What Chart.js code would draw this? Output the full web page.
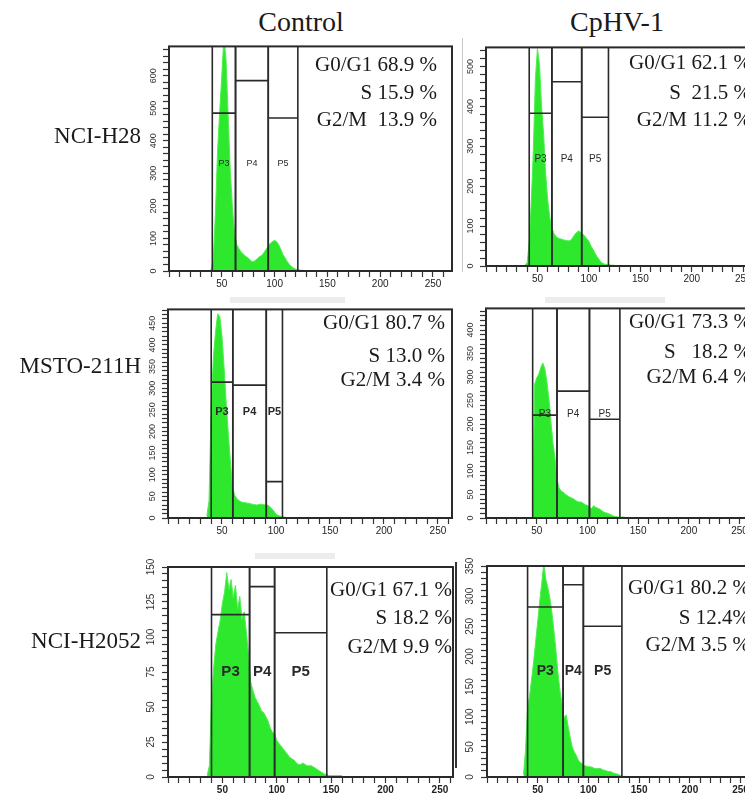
<!DOCTYPE html>
<html>
<head>
<meta charset="utf-8">
<script src="https://cdn.jsdelivr.net/npm/chart.js@4.4.0/dist/chart.umd.min.js"></script>
<style>
html,body{margin:0;padding:0;background:#fff;}
body{width:745px;height:796px;overflow:hidden;position:relative;font-family:"Liberation Serif","Times New Roman",serif;color:#1a1a1a;}
canvas{position:absolute;}
.txt{position:absolute;white-space:pre;line-height:1;}
.pct{font-size:21px;text-align:right;}
.title{font-size:28px;text-align:center;width:200px;}
.row{font-size:23px;text-align:right;}
.smudge{position:absolute;background:#ececec;}
</style>
</head>
<body>
<script>
//DNA content channels shared by all six histograms
var channels = [36,38,40,42,44,46,48,50,52,54,56,58,60,62,64,66,68,70,72,74,76,78,80,82,84,86,88,90,92,94,96,98,100,102,104,106,108,110,112,114,116,118,120,122,124,126,128,130,132,134,136,138,140,142,144,146,148,150,152,154,156,158,160];

//Cell counts per channel
var h28Control = [0,1,4,40,180,370,490,600,720,650,480,310,200,118,82,70,60,53,47,42,37,30,29,33,39,45,48,57,67,77,85,91,94,90,80,66,50,40,29,20,14,9,6,4,3,2,2,1,1,1,1,1,1,0,0,0,0,0,0,0,0,0,0];
var h28Cphv = [0,2,8,60,160,290,470,545,505,400,330,230,165,122,95,82,74,70,68,67,65,64,63,64,70,78,84,88,84,80,75,68,62,50,42,32,23,16,9,6,4,4,3,2,2,1,1,1,1,0,0,0,0,0,0,0,0,0,0,0,0,0,0];
var mstoControl = [5,40,260,370,430,472,465,420,346,262,190,124,68,52,44,40,37,36,35,34,33,32,31,30,31,32,31,30,30,27,22,16,9,6,4,3,2,1,1,1,0,0,0,0,0,0,0,0,0,0,0,0,0,0,0,0,0,0,0,0,0,0,0];
var mstoCphv = [0,0,0,0,0,0,285,298,306,320,330,318,290,255,205,160,128,82,64,58,55,51,48,45,43,41,38,35,34,34,31,28,27,22,20,26,23,21,19,16,13,11,10,8,6,4,3,2,2,2,2,1,1,1,0,0,0,0,0,0,0,0,0];
var h2052Control = [1,8,55,78,95,104,112,124,132,146,134,141,128,137,120,129,113,118,104,88,68,62,57,54,51,47,46,43,40,35,32,31,26,24,22,20,18,16,14,13,12,10,9,9,10,9,8,8,8,7,6,5,4,3,2,2,1,1,1,1,1,1,1];
var h2052Cphv = [4,45,115,135,163,192,225,258,292,322,355,328,314,297,273,243,210,172,143,121,98,103,84,66,50,42,36,28,24,22,19,18,17,17,16,14,14,14,14,12,11,10,9,9,7,6,5,4,2,1,1,1,0,0,0,0,0,0,0,0,0,0,0];

//Gates P3/P4/P5 as [from channel, to channel, marker level]
var gateNames = ["P3", "P4", "P5"];
var h28ControlGates = [[41,63,485],[63,94,585],[94,122,470]];
var h28CphvGates = [[42,64,383],[64,93,462],[93,119,373]];
var mstoControlGates = [[40,60,314],[60,91,307],[91,106,84]];
var mstoCphvGates = [[46,70,219],[70,102,270],[102,132,210]];
var h2052ControlGates = [[40,75,116],[75,98,136],[98,146,103]];
var h2052CphvGates = [[40,75,282],[75,95,319],[95,133,250]];

//Cell cycle percentages
var h28ControlPct = ["G0/G1 68.9 %", "S 15.9 %", "G2/M  13.9 %"];
var h28CphvPct = ["G0/G1 62.1 %", "S  21.5 %", "G2/M 11.2 %"];
var mstoControlPct = ["G0/G1 80.7 %", "S 13.0 %", "G2/M 3.4 %"];
var mstoCphvPct = ["G0/G1 73.3 %", "S   18.2 %", "G2/M 6.4 %"];
var h2052ControlPct = ["G0/G1 67.1 %", "S 18.2 %", "G2/M 9.9 %"];
var h2052CphvPct = ["G0/G1 80.2 %", "S 12.4%", "G2/M 3.5 %"];

//Axis ranges
var yMaxes = [690, 548, 482, 446, 150, 350];
var yMinorSteps = [20, 20, 10, 10, 5, 10];
var yLabelSteps = [100, 100, 50, 50, 25, 50];
var xMaxes = [268, 275, 263, 279, 262, 279];

var columnTitles = ["Control", "CpHV-1"];
var cellLines = ["NCI-H28", "MSTO-211H", "NCI-H2052"];

//Layout of each panel: plot box [left, top, width, height], percentage text, gate label style
var panels = [
  {counts:h28Control, gates:h28ControlGates, pct:h28ControlPct, box:[169,43,283,228], pctRight:437, pctY:[65,93,120], gateLabelY:330, gateFont:"9px", xFont:"normal", yFont:9},
  {counts:h28Cphv, gates:h28CphvGates, pct:h28CphvPct, box:[486,44,283,222], pctRight:751, pctY:[63,93,120], gateLabelY:267, gateFont:"10px", xFont:"normal", yFont:9},
  {counts:mstoControl, gates:mstoControlGates, pct:mstoControlPct, box:[168,306,284,212], pctRight:445, pctY:[323,356,380], gateLabelY:245, gateFont:"bold 11px", xFont:"normal", yFont:9},
  {counts:mstoCphv, gates:mstoCphvGates, pct:mstoCphvPct, box:[486,305,283,213], pctRight:751, pctY:[322,352,377], gateLabelY:221, gateFont:"10px", xFont:"normal", yFont:9},
  {counts:h2052Control, gates:h2052ControlGates, pct:h2052ControlPct, box:[168,563,285,214], pctRight:452, pctY:[590,618,647], gateLabelY:75, gateFont:"bold 15px", xFont:"bold", yFont:10},
  {counts:h2052Cphv, gates:h2052CphvGates, pct:h2052CphvPct, box:[487,562,283,215], pctRight:750, pctY:[588,618,645], gateLabelY:176, gateFont:"bold 14px", xFont:"bold", yFont:10}
];

//Plugin that draws the frame, the gate markers and their names through the chart scales
var gatePlugin = {
  id: "gates",
  afterDatasetsDraw: function(chart, args, opts) {
    var ctx = chart.ctx;
    var xs = chart.scales.x;
    var ys = chart.scales.y;
    var a = chart.chartArea;
    ctx.save();
    ctx.strokeStyle = "#2a2a2a";
    ctx.lineWidth = 1.6;
    ctx.fillStyle = "#2a2a2a";
    ctx.font = opts.font + " 'Liberation Sans', Arial, sans-serif";
    ctx.textAlign = "center";
    ctx.textBaseline = "middle";
    opts.gates.forEach(function(g, i) {
      var x0 = xs.getPixelForValue(g[0]);
      var x1 = xs.getPixelForValue(g[1]);
      var yl = ys.getPixelForValue(g[2]);
      ctx.beginPath();
      ctx.moveTo(x0, a.bottom); ctx.lineTo(x0, a.top);
      ctx.moveTo(x1, a.bottom); ctx.lineTo(x1, a.top);
      ctx.moveTo(x0, yl); ctx.lineTo(x1, yl);
      ctx.stroke();
      ctx.fillText(opts.names[i], (x0 + x1) / 2, ys.getPixelForValue(opts.labelY));
    });
    ctx.lineWidth = 2;
    ctx.strokeRect(a.left, a.top, a.width, a.height);
    ctx.restore();
  }
};

function addText(cls, text, css) {
  var d = document.createElement("div");
  d.className = "txt " + cls;
  d.textContent = text;
  for (var k in css) d.style[k] = css[k];
  document.body.appendChild(d);
}

function addBlock(l, t, w, h, color) {
  var d = document.createElement("div");
  d.className = "smudge";
  d.style.left = l + "px"; d.style.top = t + "px";
  d.style.width = w + "px"; d.style.height = h + "px";
  if (color) d.style.background = color;
  document.body.appendChild(d);
}

//Scan marks from the original figure
addBlock(230, 297, 115, 6);
addBlock(545, 297, 120, 6);
addBlock(255, 553, 80, 6);
addBlock(462, 38, 1, 234, "#c8c8c8");
addBlock(455, 562, 2, 206, "#333");

var padTop = 4, padRight = 4, yAxisW = 30, xAxisH = 24;

panels.forEach(function(p, n) {
  var cv = document.createElement("canvas");
  cv.width = p.box[2] + yAxisW + padRight;
  cv.height = p.box[3] + padTop + xAxisH;
  cv.style.left = (p.box[0] - yAxisW) + "px";
  cv.style.top = (p.box[1] - padTop) + "px";
  document.body.appendChild(cv);

  var points = channels.map(function(c, i) { return {x: c, y: p.counts[i]}; });
  var labelStep = yLabelSteps[n];

  new Chart(cv, {
    type: "line",
    data: {
      datasets: [{
        data: points,
        fill: "origin",
        backgroundColor: "rgb(46,232,46)",
        borderColor: "rgb(80,238,80)",
        borderWidth: 1,
        pointRadius: 0,
        tension: 0
      }]
    },
    options: {
      responsive: false,
      animation: false,
      events: [],
      layout: {padding: {top: padTop, right: padRight, left: 0, bottom: 0}},
      plugins: {
        legend: {display: false},
        tooltip: {enabled: false},
        gates: {gates: p.gates, names: gateNames, labelY: p.gateLabelY, font: p.gateFont}
      },
      scales: {
        x: {
          type: "linear",
          min: 0,
          max: xMaxes[n],
          afterFit: function(s) { s.height = xAxisH; },
          border: {display: false},
          grid: {drawOnChartArea: false, drawTicks: true, tickLength: 6, color: "#333", tickWidth: 1.2},
          ticks: {
            stepSize: 10,
            autoSkip: false,
            includeBounds: false,
            maxRotation: 0,
            minRotation: 0,
            padding: 1,
            color: "#222",
            font: {family: "'Liberation Sans', Arial, sans-serif", size: 10, weight: p.xFont},
            callback: function(v) { return (v > 0 && v % 50 === 0) ? v : ""; }
          }
        },
        y: {
          type: "linear",
          min: 0,
          max: yMaxes[n],
          afterFit: function(s) { s.width = yAxisW; },
          border: {display: false},
          grid: {drawOnChartArea: false, drawTicks: true, tickLength: 6, color: "#333", tickWidth: 1.2},
          ticks: {
            stepSize: yMinorSteps[n],
            autoSkip: false,
            includeBounds: false,
            minRotation: 90,
            maxRotation: 90,
            crossAlign: "center",
            padding: 2,
            color: "#333",
            font: {family: "'Liberation Sans', Arial, sans-serif", size: p.yFont},
            callback: function(v) { return (v % labelStep === 0) ? v : ""; }
          }
        }
      }
    },
    plugins: [gatePlugin]
  });

  //Percentages of cells in each phase
  p.pct.forEach(function(t, i) {
    addText("pct", t, {right: (745 - p.pctRight) + "px", top: (p.pctY[i] - 11) + "px"});
  });
});

//Column titles and cell line names
addText("title", columnTitles[0], {left: (301 - 100) + "px", top: "8px"});
addText("title", columnTitles[1], {left: (617 - 100) + "px", top: "8px"});
[135, 365, 640].forEach(function(cy, i) {
  addText("row", cellLines[i], {right: (745 - 141) + "px", top: (cy - 11) + "px"});
});
</script>
</body>
</html>
